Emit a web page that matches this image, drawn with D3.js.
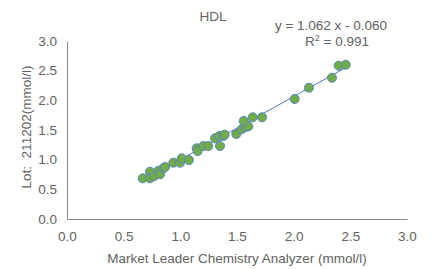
<!doctype html>
<html>
  <head>
    <meta charset="UTF-8">
    <title>HDL</title>
    <style>
      body { margin: 0; background: #fff; }
      svg text { font-family: "Liberation Sans", Arial, sans-serif; fill: #626262; }
      .axis path { stroke: #898989; stroke-width: 1; }
      .axis text { font-size: 13.5px; fill: #626262; }
    </style>
  </head>
  <body>
    <svg id="chart" width="433" height="269"></svg>
    <script src="https://d3js.org/d3.v7.min.js"></script>
    <script>
      // values
      const xValues = [0.668, 0.732, 0.732, 0.768, 0.806, 0.821, 0.850, 0.865, 0.938, 0.997,
                       1.012, 1.076, 1.144, 1.153, 1.203, 1.247, 1.306, 1.350, 1.344, 1.379,
                       1.391, 1.494, 1.541, 1.571, 1.600, 1.559, 1.638, 1.721, 2.009, 2.135,
                       2.338, 2.397, 2.459];
      const yValues = [0.686, 0.797, 0.686, 0.720, 0.814, 0.753, 0.855, 0.876, 0.949, 0.949,
                       1.023, 0.994, 1.192, 1.146, 1.230, 1.230, 1.360, 1.230, 1.399, 1.399,
                       1.421, 1.433, 1.512, 1.546, 1.562, 1.652, 1.714, 1.714, 2.023, 2.213,
                       2.381, 2.584, 2.600];
      const tickValues = [0, 0.5, 1, 1.5, 2, 2.5, 3];
      const slope = 1.062, intercept = -0.060, rSquared = 0.991;

      const svg = d3.select("#chart");
      const plotLeft = 67, plotRight = 407, plotTop = 41, plotBottom = 219;

      const x = d3.scaleLinear().domain([0, 3]).range([plotLeft, plotRight]);
      const y = d3.scaleLinear().domain([0, 3]).range([plotBottom, plotTop]);

      svg.append("g")
        .attr("class", "axis")
        .attr("transform", `translate(0,${plotBottom})`)
        .call(d3.axisBottom(x).tickValues(tickValues).tickFormat(d3.format(".1f"))
          .tickSizeInner(0).tickSizeOuter(0).tickPadding(12))
        .call(g => g.selectAll(".tick line").remove());

      svg.append("g")
        .attr("class", "axis")
        .attr("transform", `translate(${plotLeft},0)`)
        .call(d3.axisLeft(y).tickValues(tickValues).tickFormat(d3.format(".1f"))
          .tickSizeInner(0).tickSizeOuter(0).tickPadding(10))
        .call(g => g.selectAll(".tick line").remove());

      // trendline across the data range
      const xExt = d3.extent(xValues);
      svg.append("line")
        .attr("x1", x(xExt[0])).attr("y1", y(slope * xExt[0] + intercept))
        .attr("x2", x(xExt[1])).attr("y2", y(slope * xExt[1] + intercept))
        .attr("stroke", "#4a76c0")
        .attr("stroke-width", 1);

      svg.append("g")
        .selectAll("circle")
        .data(xValues.map((v, i) => [v, yValues[i]]))
        .join("circle")
          .attr("cx", d => x(d[0]))
          .attr("cy", d => y(d[1]))
          .attr("r", 4.5)
          .attr("fill", "#70ad47")
          .attr("stroke", "#5b84c4")
          .attr("stroke-width", 1);

      // titles
      svg.append("text")
        .attr("x", 213).attr("y", 21)
        .attr("text-anchor", "middle")
        .style("font-size", "13.5px")
        .text("HDL");

      svg.append("text")
        .attr("x", 331).attr("y", 30)
        .attr("text-anchor", "middle")
        .style("font-size", "13.5px")
        .text(`y = ${slope.toFixed(3)} x - ${Math.abs(intercept).toFixed(3)}`);

      const r2 = svg.append("text")
        .attr("x", 337).attr("y", 46)
        .attr("text-anchor", "middle")
        .style("font-size", "13.5px");
      r2.append("tspan").text("R");
      r2.append("tspan").attr("dy", -5).style("font-size", "9px").text("2");
      r2.append("tspan").attr("dy", 5).text(` = ${rSquared.toFixed(3)}`);

      svg.append("text")
        .attr("x", 237).attr("y", 263)
        .attr("text-anchor", "middle")
        .style("font-size", "13.5px")
        .text("Market Leader Chemistry Analyzer (mmol/l)");

      svg.append("text")
        .attr("transform", "translate(31,127) rotate(-90)")
        .attr("text-anchor", "middle")
        .style("font-size", "13.5px")
        .style("white-space", "pre")
        .text("Lot:  211202(mmol/l)");
    </script>
  </body>
</html>
